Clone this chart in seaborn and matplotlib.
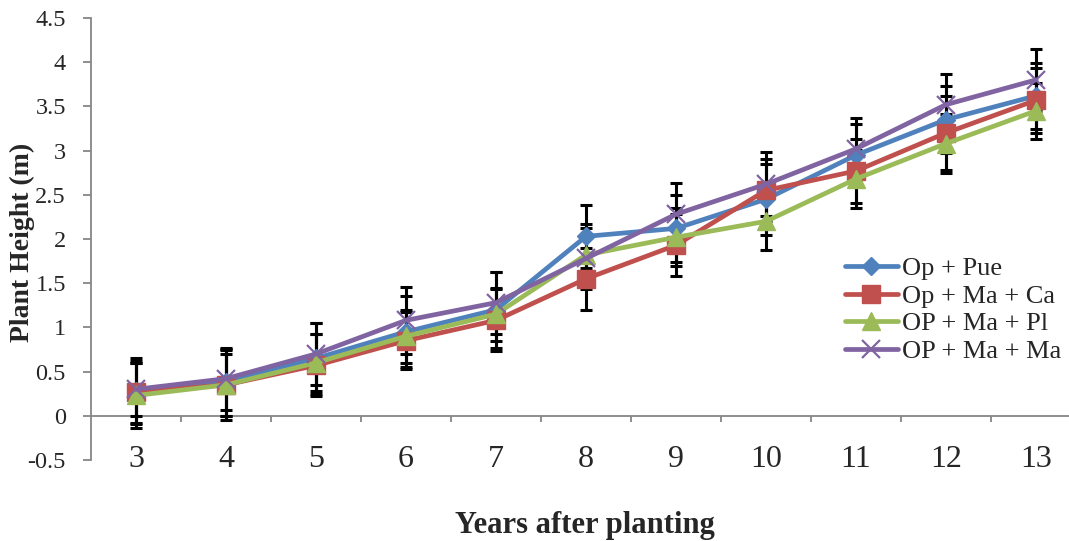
import numpy as np
import pandas as pd
import matplotlib
matplotlib.use("Agg")
import matplotlib.pyplot as plt
import seaborn as sns
from matplotlib.lines import Line2D

years = [3, 4, 5, 6, 7, 8, 9, 10, 11, 12, 13]
series_names = ["Op + Pue", "Op + Ma + Ca", "OP + Ma + Pl", "OP + Ma + Ma"]

op_pue = [0.28, 0.38, 0.65, 0.95, 1.20, 2.03, 2.12, 2.45, 2.95, 3.35, 3.62]
op_ma_ca = [0.27, 0.35, 0.57, 0.85, 1.08, 1.55, 1.93, 2.55, 2.77, 3.20, 3.57]
op_ma_pl = [0.23, 0.35, 0.60, 0.90, 1.15, 1.82, 2.02, 2.20, 2.68, 3.08, 3.45]
op_ma_ma = [0.30, 0.42, 0.70, 1.08, 1.28, 1.78, 2.28, 2.62, 3.02, 3.52, 3.80]

err_pue = [0.37, 0.38, 0.40, 0.40, 0.43, 0.36, 0.38, 0.40, 0.35, 0.38, 0.37]
err_ca = [0.35, 0.40, 0.35, 0.32, 0.35, 0.35, 0.35, 0.35, 0.36, 0.42, 0.37]
err_pl = [0.37, 0.35, 0.32, 0.30, 0.30, 0.35, 0.33, 0.33, 0.33, 0.33, 0.32]
err_ma = [0.30, 0.35, 0.35, 0.38, 0.35, 0.35, 0.35, 0.36, 0.35, 0.35, 0.35]

values = [op_pue, op_ma_ca, op_ma_pl, op_ma_ma]
errors = [err_pue, err_ca, err_pl, err_ma]
colors = ["#4F81BD", "#C0504D", "#9BBB59", "#8064A2"]
markers = ["D", "s", "^", "x"]
msizes = [9, 13, 13, 13]

y_ticks = [-0.5, 0, 0.5, 1, 1.5, 2, 2.5, 3, 3.5, 4, 4.5]

sns.set_theme(style="white")
plt.rcParams["font.family"] = ["Liberation Serif", "DejaVu Serif"]

fig = plt.figure(figsize=(10.69, 5.41), dpi=100)
W, H = 1069, 541
ax = fig.add_axes([91 / W, 1 - 460 / H, 990 / W, 442 / H])

# error bars
for vals, errs in zip(values, errors):
    ax.errorbar(years, vals, yerr=errs, fmt="none", ecolor="black",
                elinewidth=2.2, capsize=4.5, capthick=2.2, zorder=2)

for name, vals, c, mk, ms in zip(series_names, values, colors, markers, msizes):
    d = pd.DataFrame({"year": years, "height": vals})
    sns.lineplot(data=d, x="year", y="height", color=c, marker=mk,
                 markersize=ms, markerfacecolor=c, markeredgecolor=c,
                 markeredgewidth=(1.6 if mk == "x" else 1),
                 linewidth=3.4, ax=ax, zorder=3, label=name, legend=False)

ax.set_xlim(years[0] - 0.5, years[-1] + 0.5)
ax.set_ylim(y_ticks[0], y_ticks[-1])
ax.set_yticks(y_ticks)
ax.set_yticklabels([f"{t:g}" for t in y_ticks])
ax.set_xticks(years)
ax.set_xticklabels([str(y) for y in years])

for s in ["top", "right", "bottom"]:
    ax.spines[s].set_visible(False)
ax.spines["left"].set_color("#868686")
ax.spines["left"].set_linewidth(1.3)

ax.axhline(0, color="#868686", linewidth=1.3, zorder=1)
bounds = [y + 0.5 for y in years[:-1]]
ax.vlines(bounds, -0.07, 0, color="#868686", linewidth=1.3, zorder=1)

ax.tick_params(axis="y", which="both", left=True, length=6, width=1.3,
               color="#868686", labelsize=17.5, pad=12)
ax.tick_params(axis="x", which="both", bottom=False, length=0,
               labelsize=23, pad=-11)

ax.set_xlabel("Years after planting", fontsize=22, fontweight="bold")
ax.xaxis.set_label_coords(0.4985, (460 - 511) / 442)
ax.set_ylabel("Plant Height (m)", fontsize=20, fontweight="bold")
ax.yaxis.set_label_coords((35 - 91) / 990, (460 - 242) / 442)

handles = [Line2D([0], [0], color=c, marker=m, markersize=ms, linewidth=3.4,
                  markeredgewidth=(1.6 if m == "x" else 1),
                  markerfacecolor=c, markeredgecolor=c)
           for c, m, ms in zip(colors, markers, msizes)]
fig.legend(handles, series_names, loc="upper left",
           bbox_to_anchor=(845 / W, 1 - 257 / H), frameon=False,
           fontsize=19, handlelength=2.0, labelspacing=0.15,
           handletextpad=0.15, borderpad=0, borderaxespad=0)

fig.savefig("out.png", dpi=100)
